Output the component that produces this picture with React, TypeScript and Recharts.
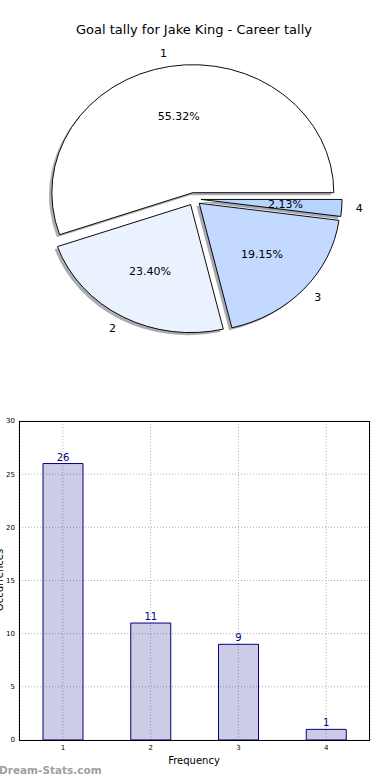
import { PieChart, Pie, Cell, BarChart, Bar, XAxis, YAxis, CartesianGrid, LabelList } from 'recharts'

const categories = ['1', '2', '3', '4']
const goals = [26, 11, 9, 1]
const sliceColors = ['#ffffff', '#ebf2ff', '#c4d9ff', '#b5d5ff']
const explode = [0.05, 0.05, 0.05, 0.05]
const yTicks = [0, 5, 10, 15, 20, 25, 30]

// pie geometry: matplotlib drew it as an ellipse, so the circle is squashed in y
const R = 141
const CX = 194
const CY = 199
const SQUASH = 128 / 141
const RAD = Math.PI / 180
const FONT = '"DejaVu Sans", sans-serif'

const total = goals.reduce((a, b) => a + b, 0)
const pieData = categories.map((name, i) => ({ name, value: goals[i] }))
const barData = categories.map((name, i) => ({ name, goals: goals[i] }))

// wedge mid angles, only used for the explode offset
const midAngles = goals.map((v, i) => {
  const before = goals.slice(0, i).reduce((a, b) => a + b, 0)
  return ((before + v / 2) / total) * 360
})

const shadowColor = (hex: string) => {
  const n = parseInt(hex.slice(1), 16)
  const c = [(n >> 16) & 255, (n >> 8) & 255, n & 255].map((v) => Math.round(v * 0.3))
  return `rgb(${c[0]},${c[1]},${c[2]})`
}

function wedgeLabel(idx: number) {
  return (props: any) => {
    if (props.index !== idx) return null
    const { cx, cy, midAngle, percent } = props
    const cos = Math.cos(midAngle * RAD)
    const sin = Math.sin(midAngle * RAD)
    const baseY = CY + (cy - CY) * SQUASH
    return (
      <g>
        <text
          x={cx + 1.1 * R * cos}
          y={baseY - 1.1 * R * SQUASH * sin}
          textAnchor={cos < 0 ? 'end' : 'start'}
          dominantBaseline="central"
          fontSize={11}
          fill="#000"
          fontFamily={FONT}
        >
          {categories[idx]}
        </text>
        <text
          x={cx + 0.6 * R * cos}
          y={baseY - 0.6 * R * SQUASH * sin}
          textAnchor="middle"
          dominantBaseline="central"
          fontSize={11}
          fill="#000"
          fontFamily={FONT}
        >
          {(percent * 100).toFixed(2)}%
        </text>
      </g>
    )
  }
}

export default function App() {
  const centers = midAngles.map((a, i) => ({
    x: CX + explode[i] * R * Math.cos(a * RAD),
    y: CY - explode[i] * R * Math.sin(a * RAD),
  }))

  return (
    <div style={{ position: 'absolute', left: 0, top: 0, width: 390, height: 780, background: '#fff', fontFamily: FONT }}>
      <style>{`.goal-pie .recharts-sector { transform-origin: ${CX}px ${CY}px; transform: scaleY(${SQUASH}); }`}</style>

      <div style={{ position: 'absolute', left: 0, top: 0 }}>
        <PieChart width={390} height={360} className="goal-pie" margin={{ top: 0, right: 0, bottom: 0, left: 0 }}>
          {centers.map((c, i) => (
            <Pie
              key={`shadow-${i}`}
              data={pieData}
              dataKey="value"
              cx={c.x - 2.8}
              cy={c.y + 2.8}
              outerRadius={R}
              startAngle={0}
              endAngle={360}
              isAnimationActive={false}
            >
              {pieData.map((_, j) => (
                <Cell
                  key={j}
                  fill={j === i ? shadowColor(sliceColors[i]) : 'none'}
                  fillOpacity={0.45}
                  stroke="none"
                />
              ))}
            </Pie>
          ))}
          {centers.map((c, i) => (
            <Pie
              key={`wedge-${i}`}
              data={pieData}
              dataKey="value"
              cx={c.x}
              cy={c.y}
              outerRadius={R}
              startAngle={0}
              endAngle={360}
              label={wedgeLabel(i)}
              labelLine={false}
              isAnimationActive={false}
            >
              {pieData.map((_, j) => (
                <Cell
                  key={j}
                  fill={j === i ? sliceColors[i] : 'none'}
                  stroke={j === i ? '#000' : 'none'}
                  strokeWidth={1}
                />
              ))}
            </Pie>
          ))}
        </PieChart>
      </div>

      <div style={{ position: 'absolute', left: 0, top: 400 }}>
        <BarChart width={390} height={380} data={barData} margin={{ top: 21, right: 20, bottom: 20, left: 0 }}>
          <CartesianGrid stroke="#b0b0b0" strokeDasharray="1 2" />
          <XAxis
            dataKey="name"
            height={20}
            axisLine={false}
            tickLine={false}
            tickSize={0}
            tickMargin={5}
            tick={{ fontSize: 7, fill: '#000', fontFamily: FONT }}
          />
          <YAxis
            width={19}
            domain={[0, 30]}
            ticks={yTicks}
            interval={0}
            axisLine={false}
            tickLine={false}
            tickSize={0}
            tickMargin={4}
            tick={{ fontSize: 7, fill: '#000', fontFamily: FONT }}
          />
          <Bar dataKey="goals" barSize={40} fill="#000080" fillOpacity={0.2} stroke="#000080" isAnimationActive={false}>
            <LabelList dataKey="goals" position="top" offset={3} fill="#000080" fontSize={10} fontFamily={FONT} />
          </Bar>
        </BarChart>
      </div>

      {/* axes frame */}
      <div style={{ position: 'absolute', left: 19, top: 421, width: 351, height: 320, border: '1px solid #000', boxSizing: 'border-box' }} />

      <svg width={390} height={780} style={{ position: 'absolute', left: 0, top: 0, pointerEvents: 'none' }}>
        <text x={194} y={34} textAnchor="middle" fontSize={13} fill="#000" fontFamily={FONT}>
          Goal tally for Jake King - Career tally
        </text>
        <text x={194} y={764} textAnchor="middle" fontSize={10} fill="#000" fontFamily={FONT}>
          Frequency
        </text>
        <text transform="translate(3,580) rotate(-90)" textAnchor="middle" fontSize={10} fill="#000" fontFamily={FONT}>
          Occurrences
        </text>
        <text x={-1} y={774} fontSize={10.5} fontWeight="bold" fill="#a0a0a0" fontFamily={FONT}>
          Dream-Stats.com
        </text>
      </svg>
    </div>
  )
}
